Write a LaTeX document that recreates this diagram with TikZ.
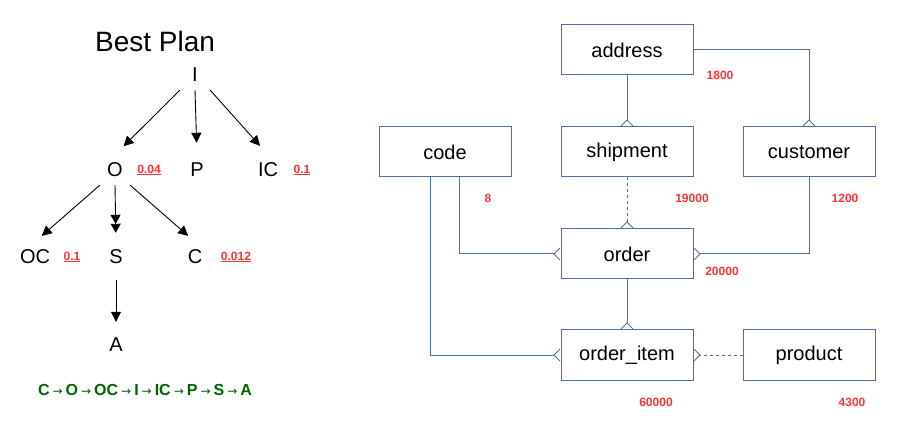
\documentclass[tikz,border=0pt]{standalone}
\usepackage{fontspec}
\setmainfont{Liberation Sans}
\newfontfamily\symfont{DejaVu Sans}
\usetikzlibrary{arrows.meta, positioning}
\definecolor{erblue}{RGB}{79,111,165}
\definecolor{costred}{RGB}{255,51,51}
\definecolor{plangreen}{RGB}{0,100,0}
\newcommand{\planarrow}{{\symfont\mdseries\fontsize{12}{14}\selectfont\hspace{3pt}→\hspace{3pt}}}

\begin{document}
\begin{tikzpicture}[
        x=1pt, y=-1pt,
        entity/.style={rectangle, draw=erblue, line width=1pt, minimum width=132pt, minimum height=50pt, font=\fontsize{20}{24}\selectfont},
        leaf/.style={minimum width=30pt, minimum height=30pt, inner sep=0pt, font=\fontsize{20}{24}\selectfont},
        cost/.style={text=costred, font=\bfseries\fontsize{12}{14}\selectfont, inner sep=1pt},
        rel/.style={draw=erblue, line width=1pt, -{Straight Barb[reversed, length=6pt, width=12pt]}},
        edge/.style={line width=0.9pt, -{Triangle[length=10pt, width=10pt]}, shorten >=9pt}
    ]
        \useasboundingbox (0,0) rectangle (897,430);

        % plan tree
        \node[font=\fontsize{28}{32}\selectfont] (title) at (155,41) {Best Plan};
        \node[leaf] (I) at (195,75) {I};
        \node[leaf] (O) at (115,170) {O};
        \node[leaf] (P) at (197,170) {P};
        \node[leaf] (IC) at (268,170) {IC};
        \node[leaf] (OC) at (35,257) {OC};
        \node[leaf] (S) at (116,257) {S};
        \node[leaf] (C) at (195,257) {C};
        \node[leaf] (A) at (116,345) {A};
        \node[cost] (costO) at (149,170) {\underline{0.04}};
        \node[cost] (costIC) at (302,170) {\underline{0.1}};
        \node[cost] (costOC) at (72,257) {\underline{0.1}};
        \node[cost] (costC) at (236,257) {\underline{0.012}};
        \node[text=plangreen, font=\bfseries\fontsize{16}{18}\selectfont] (plan) at (145,390)
            {C\planarrow O\planarrow OC\planarrow I\planarrow IC\planarrow P\planarrow S\planarrow A};

        \draw[edge, shorten >=12pt] (I.south west) -- (O.north);
        \draw[edge, shorten >=12pt] (I.south) -- (P.north);
        \draw[edge, shorten >=12pt] (I.south east) -- (IC.north);
        \draw[edge] (O.south west) -- (OC.north);
        \draw[edge, -{Triangle[length=9pt, width=10pt]Triangle[length=9pt, width=10pt]}] (O.south) -- (S.north);
        \draw[edge] (O.south east) -- (C.north);
        \draw[edge, shorten <=8pt, shorten >=8pt] (S.south) -- (A.north);

        % schema
        \node[entity] (address) at (627,50) {address};
        \node[entity, below=51pt of address] (shipment) {shipment};
        \node[entity, left=49pt of shipment] (code) {code};
        \node[entity, right=49pt of shipment] (customer) {customer};
        \node[entity, below=51pt of shipment] (order) {order};
        \node[entity, below=50pt of order] (order_item) {order\_item};
        \node[entity, right=49pt of order_item] (product) {product};

        \draw[rel] (address.east) -| (customer.north);
        \draw[rel] (address) -- (shipment);
        \draw[rel, dash pattern=on 3pt off 3pt] (shipment) -- (order);
        \draw[rel] ([xshift=14pt]code.south) |- (order.west);
        \draw[rel] ([xshift=-15pt]code.south) |- (order_item.west);
        \draw[rel] (customer.south) |- (order.east);
        \draw[rel] (order) -- (order_item);
        \draw[rel, dash pattern=on 3pt off 3pt] (product) -- (order_item);

        \node[cost] (rowsAddress) at (720,75) {1800};
        \node[cost] (rowsCode) at (488,198) {8};
        \node[cost] (rowsShipment) at (692,198) {19000};
        \node[cost] (rowsCustomer) at (845,198) {1200};
        \node[cost] (rowsOrder) at (722,271) {20000};
        \node[cost] (rowsItem) at (656,402) {60000};
        \node[cost] (rowsProduct) at (852,402) {4300};
    \end{tikzpicture}
\end{document}
